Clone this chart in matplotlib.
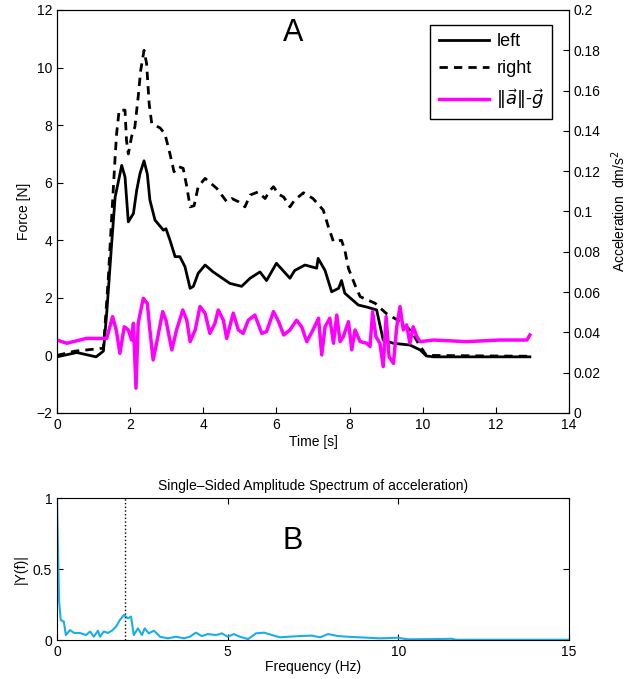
import matplotlib.pyplot as plt
import numpy as np

plt.rcParams['font.family'] = ['Liberation Sans', 'DejaVu Sans']
plt.rcParams['mathtext.fontset'] = 'dejavusans'

# force of left foot [N]
leftT = [0, 0.54, 1.07, 1.27, 1.36, 1.49, 1.59, 1.77, 1.86, 1.95, 2.09, 2.18, 2.27, 2.38, 2.47,
         2.54, 2.68, 2.91, 2.98, 3.09, 3.23, 3.36, 3.5, 3.64, 3.73, 3.86, 4.05, 4.27, 4.73, 5.05,
         5.28, 5.55, 5.73, 6.0, 6.37, 6.5, 6.78, 7.1, 7.14, 7.33, 7.51, 7.7, 7.78, 7.87, 8.24,
         8.47, 8.74, 8.92, 9.2, 9.65, 9.93, 10.1, 10.3, 12.93]
leftF = [-0.05, 0.1, -0.05, 0.15, 1.47, 3.8, 5.5, 6.6, 6.2, 4.64, 4.93, 5.74, 6.32, 6.76, 6.3,
         5.4, 4.7, 4.35, 4.4, 4.0, 3.43, 3.43, 3.08, 2.33, 2.4, 2.85, 3.14, 2.9, 2.5, 2.4,
         2.68, 2.9, 2.6, 3.2, 2.68, 2.95, 3.14, 3.03, 3.37, 2.95, 2.21, 2.33, 2.6, 2.16, 1.75,
         1.68, 1.58, 0.53, 0.42, 0.36, 0.19, -0.02, -0.05, -0.05]

# force of right foot [N]
rightT = [0, 0.5, 1.27, 1.4, 1.5, 1.59, 1.63, 1.7, 1.86, 1.9, 1.95, 2.04, 2.13, 2.22, 2.29,
          2.38, 2.45, 2.52, 2.59, 2.82, 2.95, 3.09, 3.2, 3.32, 3.45, 3.55, 3.64, 3.75, 3.86, 4.05,
          4.37, 4.64, 4.78, 4.96, 5.14, 5.28, 5.5, 5.69, 5.83, 5.92, 6.06, 6.2, 6.37, 6.5, 6.74,
          7.0, 7.28, 7.42, 7.56, 7.78, 7.87, 7.97, 8.15, 8.29, 8.7, 9.0, 9.47, 9.7, 9.88, 10.1,
          12.93]
rightF = [0.0, 0.15, 0.25, 2.62, 4.9, 6.9, 7.7, 8.52, 8.52, 7.48, 7.0, 7.6, 7.94, 8.98, 9.91,
          10.6, 10.14, 8.75, 8.06, 7.9, 7.7, 7.0, 6.38, 6.56, 6.5, 5.86, 5.16, 5.2, 5.86, 6.15,
          5.8, 5.34, 5.45, 5.34, 5.16, 5.57, 5.68, 5.45, 5.74, 5.86, 5.6, 5.5, 5.16, 5.4, 5.65,
          5.45, 5.05, 4.47, 3.95, 4.0, 3.66, 3.02, 2.44, 2.04, 1.81, 1.46, 1.11, 0.82, 0.42, 0.0,
          -0.03]

# ||a|| - g  [dm/s^2]
accT = [0, 0.27, 0.8, 1.36, 1.52, 1.62, 1.72, 1.84, 1.95, 2.04, 2.09, 2.16, 2.22, 2.36, 2.47,
        2.54, 2.63, 2.74, 2.89, 2.98, 3.14, 3.27, 3.44, 3.55, 3.64, 3.78, 3.91, 4.05, 4.18, 4.32,
        4.41, 4.55, 4.64, 4.82, 4.96, 5.09, 5.23, 5.41, 5.6, 5.73, 5.92, 6.06, 6.2, 6.37, 6.55,
        6.69, 6.83, 7.0, 7.15, 7.24, 7.33, 7.46, 7.56, 7.65, 7.74, 7.83, 7.97, 8.06, 8.15, 8.29,
        8.47, 8.56, 8.63, 8.72, 8.83, 8.92, 9.0, 9.08, 9.2, 9.29, 9.38, 9.47, 9.56, 9.65, 9.74,
        9.84, 9.93, 10.3, 11.2, 12.1, 12.85, 12.93]
accA = [0.0362, 0.0346, 0.037, 0.037, 0.0478, 0.0412, 0.0296, 0.0428, 0.0412, 0.0362, 0.0445,
        0.0123, 0.0445, 0.0569, 0.0544, 0.0412, 0.0263, 0.0362, 0.0503, 0.046, 0.0313, 0.0412,
        0.0511, 0.046, 0.0354, 0.0412, 0.0528, 0.0495, 0.0395, 0.0445, 0.0511, 0.046, 0.037,
        0.0495, 0.0412, 0.0395, 0.046, 0.0486, 0.0395, 0.0404, 0.0503, 0.0453, 0.0387, 0.0412,
        0.046, 0.0428, 0.0354, 0.0412, 0.047, 0.0288, 0.0428, 0.047, 0.0346, 0.0486, 0.0354,
        0.0379, 0.0453, 0.0313, 0.0412, 0.0354, 0.0346, 0.033, 0.0503, 0.0379, 0.0346, 0.023,
        0.0478, 0.0279, 0.0246, 0.0428, 0.0528, 0.0412, 0.0437, 0.0346, 0.0428, 0.0379, 0.0354,
        0.0362, 0.0354, 0.0362, 0.0362, 0.0387]

# single-sided amplitude spectrum
freq = [0, 0.06, 0.11, 0.2, 0.26, 0.38, 0.5, 0.67, 0.85, 0.97, 1.08, 1.2, 1.26, 1.37, 1.49,
        1.61, 1.73, 1.84, 1.96, 2.08, 2.17, 2.25, 2.37, 2.49, 2.57, 2.69, 2.84, 3.02, 3.25, 3.48,
        3.72, 3.89, 4.07, 4.24, 4.42, 4.66, 4.83, 5.0, 5.18, 5.36, 5.6, 5.83, 6.07, 6.3, 6.53,
        6.77, 7.12, 7.47, 7.71, 7.94, 8.23, 8.52, 8.87, 9.46, 9.98, 10.28, 11.22, 11.57, 11.69, 15]
amp = [1.0, 0.28, 0.14, 0.13, 0.035, 0.07, 0.05, 0.05, 0.035, 0.06, 0.023, 0.066, 0.023, 0.06,
       0.05, 0.066, 0.094, 0.14, 0.176, 0.153, 0.165, 0.035, 0.082, 0.035, 0.082, 0.047, 0.066,
       0.023, 0.012, 0.023, 0.012, 0.023, 0.052, 0.028, 0.042, 0.035, 0.047, 0.023, 0.042, 0.023,
       0.007, 0.047, 0.052, 0.035, 0.019, 0.023, 0.028, 0.031, 0.019, 0.042, 0.028, 0.023, 0.019,
       0.012, 0.016, 0.005, 0.007, 0.009, 0.002, 0.002]
peakFreq = 2.0

fig = plt.figure(figsize=(6.29, 6.79), dpi=100)

# --- panel A: forces and acceleration
ax = fig.add_axes([0.0906, 0.3918, 0.814, 0.5935])
h1, = ax.plot(leftT, leftF, color='black', lw=2, label='left')
h2, = ax.plot(rightT, rightF, color='black', lw=2, ls=(0, (3, 2.2)), label='right')
ax.set_xlim(0, 14)
ax.set_ylim(-2, 12)
ax.set_xticks(np.arange(0, 15, 2))
ax.set_yticks(np.arange(-2, 13, 2))
ax.set_xlabel('Time [s]', fontsize=10, labelpad=2)
ax.set_ylabel('Force [N]', fontsize=10)
ax.tick_params(direction='in', labelsize=10, length=4)
ax.text(0.461, 0.943, 'A', transform=ax.transAxes, fontsize=22, ha='center', va='center')

ax2 = ax.twinx()
h3, = ax2.plot(accT, accA, color='#ff00ff', lw=2.5, label=r'$\Vert\vec{a}\Vert$-$\vec{g}$')
ax2.set_ylim(0, 0.2)
ax2.set_yticks(np.arange(0, 0.201, 0.02))
ax2.set_yticklabels(['0', '0.02', '0.04', '0.06', '0.08', '0.1', '0.12', '0.14', '0.16',
                     '0.18', '0.2'])
ax2.set_ylabel(r'Acceleration  dm/s$^2$', fontsize=10, labelpad=6)
ax2.tick_params(direction='in', labelsize=10, length=4)
leg = ax2.legend(handles=[h1, h2, h3], loc='upper right', fontsize=13, fancybox=False,
                 edgecolor='black', framealpha=1, handlelength=2.8, borderpad=0.45,
                 labelspacing=0.55, handletextpad=0.4, bbox_to_anchor=(0.985, 0.985))
leg.get_frame().set_linewidth(1)

# --- panel B: spectrum
bx = fig.add_axes([0.0906, 0.0574, 0.814, 0.2091])
bx.plot(freq, amp, color='#1aaee8', lw=1.5)
bx.axvline(peakFreq, color='black', ls=':', lw=1)
bx.set_xlim(0, 15)
bx.set_ylim(0, 1)
bx.set_xticks([0, 5, 10, 15])
bx.set_yticks([0, 0.5, 1])
bx.set_yticklabels(['0', '0.5', '1'])
bx.set_xlabel('Frequency (Hz)', fontsize=10, labelpad=1)
bx.set_ylabel('|Y(f)|', fontsize=10)
bx.set_title('Single\u2013Sided Amplitude Spectrum of acceleration)', fontsize=10, pad=6)
bx.tick_params(direction='in', labelsize=10, length=4, top=True, right=True)
bx.text(0.461, 0.70, 'B', transform=bx.transAxes, fontsize=22, ha='center', va='center')

fig.savefig('out.png', dpi=100)
